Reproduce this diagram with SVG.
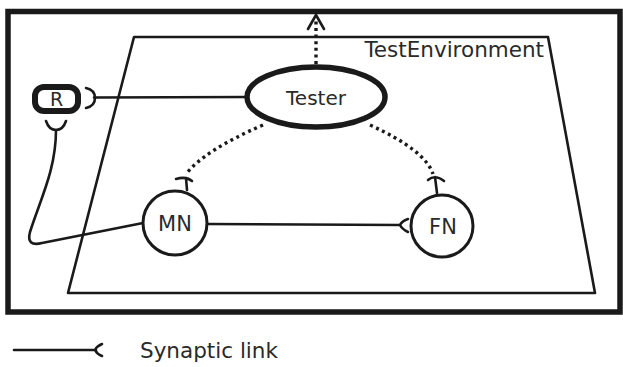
<svg xmlns="http://www.w3.org/2000/svg" width="623" height="367" viewBox="0 0 623 367">
<style>
.ln{fill:none;stroke:#1a1a1a;stroke-width:2.6;stroke-linecap:round;stroke-linejoin:round}
.dot{fill:none;stroke:#1a1a1a;stroke-width:3.4;stroke-dasharray:3 3.6}
.node{fill:#fff;stroke:#1a1a1a}
.t{font-family:"DejaVu Sans",sans-serif;fill:#2a2a2a}
</style>
<rect width="623" height="367" fill="#fff"/>
<rect x="8" y="11.5" width="612" height="300.5" fill="none" stroke="#1a1a1a" stroke-width="5.5"/>
<g id="TestEnvironment">
<polygon points="134,37 548,37 595,293 68,293" fill="none" stroke="#1a1a1a" stroke-width="2.6" stroke-linejoin="round"/>
<text class="t" x="544" y="57" font-size="21.5" text-anchor="end">TestEnvironment</text>
</g>
<g id="connectors">
<path class="dot" d="M316,64 L316,18"/>
<path class="ln" d="M308,29 L316,15 L324,29"/>
<path class="ln" d="M94,97.5 L247,97"/>
<path class="ln" d="M86,88 Q95,90 95,98 Q95,106 86,108"/>
<path class="ln" d="M46,121 Q49,130 56,130 Q63,130 66,121"/>
<path class="ln" d="M56,130 C56,170 40,200 30,232 Q26,247 42,243 L143,223"/>
<path class="ln" d="M207,224 L400,225"/>
<path class="ln" d="M408,219 Q402,221 400,225 Q402,229 408,232"/>
<path class="dot" d="M263,125 Q205,150 186,174"/>
<path class="ln" d="M176,179 Q186,176 192,181 M186,178 L187,190"/>
<path class="dot" d="M370,125 Q425,150 433,174"/>
<path class="ln" d="M428,180 Q435,174 444,181 M435,177 L437,193"/>
</g>
<g id="Tester">
<ellipse class="node" cx="316" cy="97" rx="69" ry="30" stroke-width="5.5"/>
<text class="t" x="316" y="104.5" font-size="20" text-anchor="middle">Tester</text>
</g>
<g id="R">
<rect class="node" x="35" y="87" width="43" height="24" rx="9" stroke-width="6"/>
<text class="t" x="56.5" y="105.5" font-size="19" text-anchor="middle">R</text>
</g>
<g id="MN">
<circle class="node" cx="175" cy="223" r="32" stroke-width="3"/>
<text class="t" x="175" y="231" font-size="21" text-anchor="middle">MN</text>
</g>
<g id="FN">
<circle class="node" cx="442" cy="226" r="31" stroke-width="3"/>
<text class="t" x="443" y="234" font-size="21" text-anchor="middle">FN</text>
</g>
<g id="legend">
<path class="ln" d="M14,350 L96,350"/>
<path class="ln" d="M102,344 Q97,346 95,350 Q97,354 102,356"/>
<text class="t" x="140" y="358" font-size="21.5">Synaptic link</text>
</g>
</svg>
